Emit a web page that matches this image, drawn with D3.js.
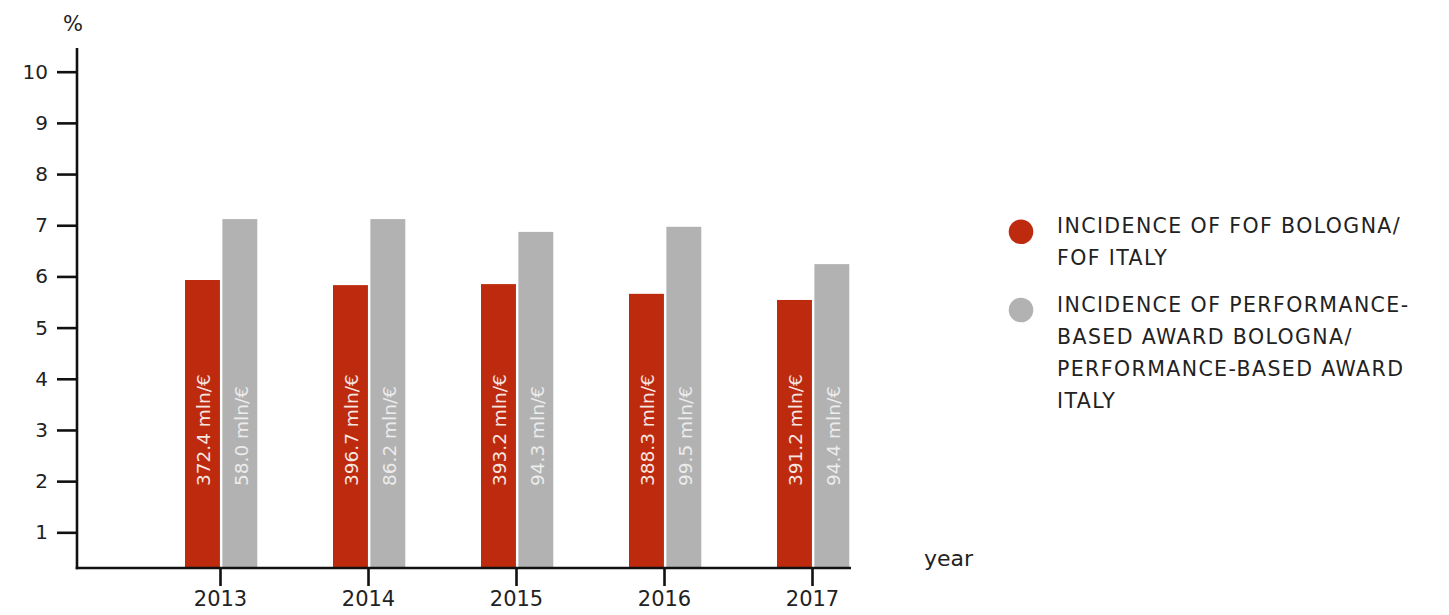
<!DOCTYPE html>
<html>
<head>
<meta charset="utf-8">
<script src="https://cdn.jsdelivr.net/npm/d3@7"></script>
<style>
  html, body { margin: 0; padding: 0; background: #fff; }
  svg { display: block; font-family: "DejaVu Sans", sans-serif; }
</style>
</head>
<body>
<svg id="chart" width="1449" height="615"></svg>
<script>
const years = ["2013", "2014", "2015", "2016", "2017"];
const seriesKeys = ["fof", "perf"];
const fofValues = [5.93, 5.83, 5.85, 5.66, 5.54];
const perfValues = [7.12, 7.12, 6.87, 6.97, 6.24];
const fofAmounts = ["372.4", "396.7", "393.2", "388.3", "391.2"];
const perfAmounts = ["58.0", "86.2", "94.3", "99.5", "94.4"];
const yTicks = [1, 2, 3, 4, 5, 6, 7, 8, 9, 10];
const legendLabels = [
  ["INCIDENCE OF FOF BOLOGNA/", "FOF ITALY"],
  ["INCIDENCE OF PERFORMANCE-", "BASED AWARD BOLOGNA/", "PERFORMANCE-BASED AWARD", "ITALY"]
];
const colors = { fof: "#BE2A0E", perf: "#B2B2B2" };
const labelColors = { fof: "#F6E6E2", perf: "#ECECEC" };

const svg = d3.select("#chart");
const axisX = 77, baseY = 568, axisTop = 48, axisRight = 851;

const y = d3.scaleLinear().domain([0, 10]).range([583.5, 71.7]);
const x = d3.scalePoint().domain(years).range([220, 812]);
const x1 = d3.scaleBand().domain(seriesKeys).range([-35, 37.3]).paddingInner(0.065);

const data = years.map((yr, i) => ({
  year: yr,
  values: [
    { key: "fof", v: fofValues[i], amt: fofAmounts[i] },
    { key: "perf", v: perfValues[i], amt: perfAmounts[i] }
  ]
}));

// bars
const groups = svg.append("g").selectAll("g").data(data).join("g")
  .attr("transform", d => `translate(${x(d.year)},0)`);
groups.selectAll("rect").data(d => d.values).join("rect")
  .attr("x", d => x1(d.key))
  .attr("width", x1.bandwidth())
  .attr("y", d => y(d.v))
  .attr("height", d => baseY - y(d.v))
  .attr("fill", d => colors[d.key]);
groups.selectAll("text").data(d => d.values).join("text")
  .attr("transform", d => `translate(${x1(d.key) + x1.bandwidth() / 2 + 1},486) rotate(-90)`)
  .attr("dy", "0.36em")
  .attr("text-anchor", "start")
  .attr("fill", d => labelColors[d.key])
  .style("font-size", "18.5px")
  .text(d => d.amt + " mln/€");

// y axis
const yAxis = d3.axisLeft(y).tickValues(yTicks).tickSize(20).tickPadding(9).tickFormat(d3.format("d"));
const gy = svg.append("g").attr("transform", `translate(${axisX},0)`).call(yAxis);
gy.select(".domain").remove();
gy.selectAll(".tick line").attr("stroke", "#111").attr("stroke-width", 2.6);
gy.selectAll(".tick text").attr("fill", "#222").style("font-size", "20px").style("font-family", "DejaVu Sans, sans-serif");
svg.append("line").attr("x1", axisX).attr("x2", axisX).attr("y1", axisTop).attr("y2", baseY + 1.3)
  .attr("stroke", "#111").attr("stroke-width", 2.6);

// x axis
const xAxis = d3.axisBottom(x).tickSize(18).tickPadding(5).tickSizeOuter(0);
const gx = svg.append("g").attr("transform", `translate(0,${baseY})`).call(xAxis);
gx.select(".domain").remove();
gx.selectAll(".tick line").attr("stroke", "#111").attr("stroke-width", 2.6);
gx.selectAll(".tick text").attr("fill", "#222").style("font-size", "21px").style("font-family", "DejaVu Sans, sans-serif");
svg.append("line").attr("x1", axisX - 1.3).attr("x2", axisRight).attr("y1", baseY).attr("y2", baseY)
  .attr("stroke", "#111").attr("stroke-width", 2.6);

// axis titles
svg.append("text").attr("x", 73).attr("y", 31).attr("text-anchor", "middle")
  .attr("fill", "#222").style("font-size", "21px").text("%");
svg.append("text").attr("x", 924).attr("y", 566).attr("text-anchor", "start")
  .attr("fill", "#222").style("font-size", "22px").text("year");

// legend
const legendY = [231.7, 310];
const leg = svg.append("g").selectAll("g").data(seriesKeys).join("g")
  .attr("transform", (d, i) => `translate(0,${legendY[i]})`);
leg.append("circle").attr("cx", 1021).attr("cy", 0).attr("r", 12.3).attr("fill", d => colors[d]);
leg.each(function(d, i) {
  const t = d3.select(this).append("text").attr("fill", "#222")
    .style("font-size", "20.5px").style("letter-spacing", "1.4px");
  t.selectAll("tspan").data(legendLabels[i]).join("tspan")
    .attr("x", 1057).attr("y", (s, j) => 1.6 + j * 32).text(s => s);
});
</script>
</body>
</html>
